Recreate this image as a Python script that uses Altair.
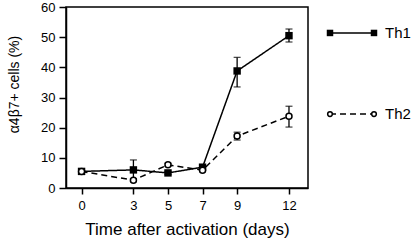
import altair as alt
import pandas as pd

# ---- data ----
days = [0, 3, 5, 7, 9, 12]
series = ["Th1", "Th2"]
th1_mean = [5.5, 6.0, 5.0, 6.9, 38.8, 50.5]
th1_lo = [5.1, 2.7, 4.5, 6.3, 33.5, 48.4]
th1_hi = [5.9, 9.3, 5.5, 7.5, 43.3, 52.7]
th2_mean = [5.5, 2.6, 7.7, 5.9, 17.2, 23.8]
th2_lo = [5.1, 2.1, 7.2, 5.4, 15.9, 20.2]
th2_hi = [5.9, 3.1, 8.2, 6.4, 18.5, 27.1]
y_ticks = [0, 10, 20, 30, 40, 50, 60]
x_title = "Time after activation (days)"
y_title = "α4β7+ cells (%)"

rows = []
for s, m, lo, hi in [("Th1", th1_mean, th1_lo, th1_hi), ("Th2", th2_mean, th2_lo, th2_hi)]:
    for d, v, l, h in zip(days, m, lo, hi):
        rows.append(dict(day=d, series=s, value=v, lo=l, hi=h))
df = pd.DataFrame(rows)

FONT = "Liberation Sans"

dash_scale = alt.Scale(domain=series, range=[[1, 0], [6, 4]])

x_axis = alt.Axis(values=days, title=x_title, tickSize=6, labelPadding=5,
                  titleFontSize=17, titlePadding=9)
y_axis = alt.Axis(values=y_ticks, title=y_title, tickSize=7, labelPadding=4,
                  titleFontSize=14, titlePadding=19, titleY=77)
x_scale = alt.Scale(domain=[-0.9, 13.1], nice=False, zero=False)
y_scale = alt.Scale(domain=[0, 60], nice=False)

def X(field):
    return alt.X(field, type="quantitative", scale=x_scale, axis=x_axis, title=x_title)

def Y(field):
    return alt.Y(field, type="quantitative", scale=y_scale, axis=y_axis, title=y_title)

base = alt.Chart(df)

lines = base.mark_line(color="black", strokeWidth=1.5).encode(
    x=X("day"), y=Y("value"),
    strokeDash=alt.StrokeDash("series:N", scale=dash_scale, legend=None),
)
rules = base.mark_rule(color="black", strokeWidth=1.3).encode(
    x=X("day"), y=Y("lo"), y2="hi:Q"
)
caps_hi = base.mark_tick(orient="horizontal", size=7, thickness=1.3, color="black").encode(
    x=X("day"), y=Y("hi")
)
caps_lo = base.mark_tick(orient="horizontal", size=7, thickness=1.3, color="black").encode(
    x=X("day"), y=Y("lo")
)
pts1 = base.transform_filter(alt.datum.series == "Th1").mark_point(
    shape="square", filled=True, color="black", size=55, opacity=1
).encode(x=X("day"), y=Y("value"))
pts2 = base.transform_filter(alt.datum.series == "Th2").mark_point(
    shape="circle", filled=True, fill="white", stroke="black", strokeWidth=1.5, size=36, opacity=1
).encode(x=X("day"), y=Y("value"))

main = alt.layer(lines, rules, caps_hi, caps_lo, pts1, pts2).properties(
    width=242, height=181,
    view=alt.ViewBackground(stroke="black", strokeWidth=1.5),
)

# ---- legend panel ----
leg_df = pd.DataFrame([{"series": s, "end": e} for s in series for e in [0, 1]])
lbase = alt.Chart(leg_df)
lx = alt.X("end:Q", scale=alt.Scale(domain=[0, 1], nice=False), axis=None)
ly = alt.Y("series:N", scale=alt.Scale(domain=series, type="point", padding=0.32), axis=None)

leg_lines = lbase.mark_line(color="black", strokeWidth=1.5).encode(
    x=lx, y=ly, strokeDash=alt.StrokeDash("series:N", scale=dash_scale, legend=None)
)
leg_p1 = lbase.transform_filter(alt.datum.series == "Th1").mark_point(
    shape="square", filled=True, color="black", size=42, opacity=1
).encode(x=lx, y=ly)
leg_p2 = lbase.transform_filter(alt.datum.series == "Th2").mark_point(
    shape="circle", filled=True, fill="white", stroke="black", strokeWidth=1.5, size=22, opacity=1
).encode(x=lx, y=ly)
leg_text = lbase.transform_filter(alt.datum.end == 1).mark_text(
    align="left", baseline="middle", dx=11, fontSize=15, font=FONT, color="black"
).encode(x=lx, y=ly, text="series:N")

legend = alt.layer(leg_lines, leg_p1, leg_p2, leg_text).properties(
    width=44, height=133,
    view=alt.ViewBackground(strokeOpacity=0),
)

chart = alt.hconcat(main, legend, spacing=22, bounds="flush").resolve_scale(
    x="independent", y="independent"
).properties(
    autosize=alt.AutoSizeParams(type="pad"),
    padding={"left": 6, "top": 0, "right": 0, "bottom": 0},
    background="white",
).configure_axis(
    grid=False,
    domainColor="black", domainWidth=1.5,
    tickColor="black", tickWidth=1.5,
    labelFont=FONT, labelFontSize=13, labelColor="black",
    titleFont=FONT, titleFontWeight="normal", titleColor="black",
).configure_text(font=FONT)

chart.save("out.html", embed_options={"renderer": "svg", "actions": False})
